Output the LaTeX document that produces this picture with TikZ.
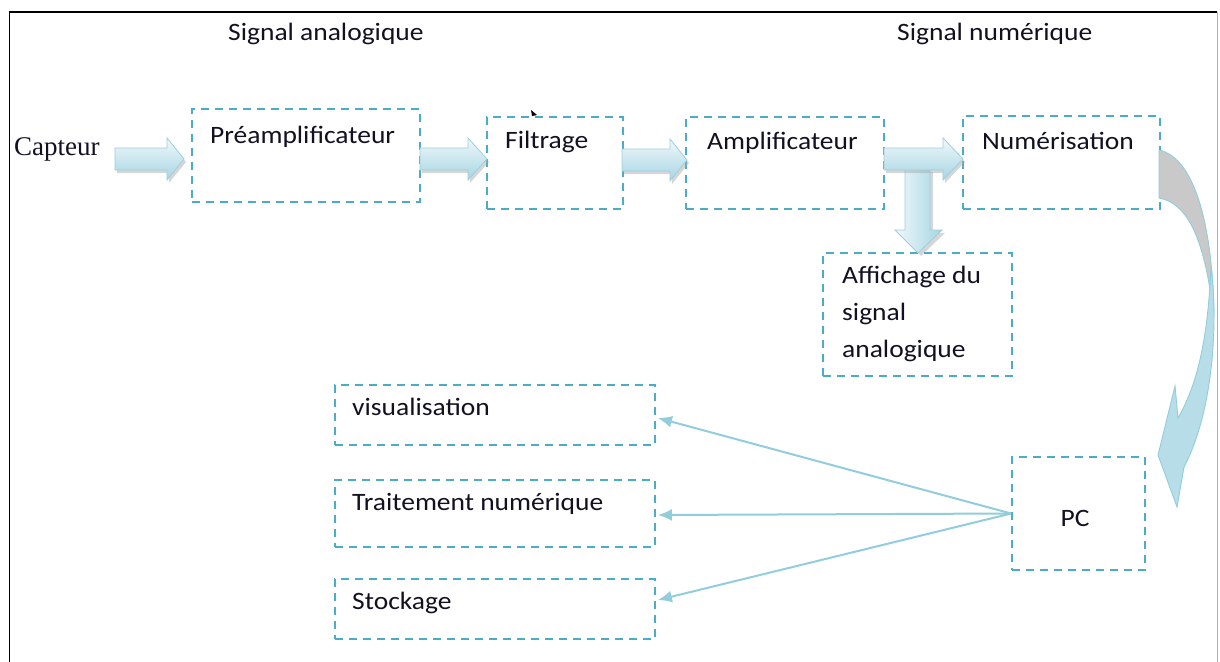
\documentclass[tikz,border=0pt]{standalone}
\usepackage{fontspec}
\setmainfont{Carlito}[FakeStretch=1.1]
\newfontfamily\serifcap{Liberation Serif}
\usetikzlibrary{arrows.meta,calc}
\definecolor{dashc}{HTML}{4BACC6}
\definecolor{linec}{HTML}{92CDDC}
\definecolor{arrtop}{HTML}{F0F8FB}
\definecolor{arrbot}{HTML}{A6D5E2}
\definecolor{arredge}{HTML}{9DCFDF}
\definecolor{curvblue}{HTML}{B7DEE8}
\definecolor{curvgray}{HTML}{C9C9C9}
\definecolor{txtc}{HTML}{111122}
\newcommand\blockarrowR[4]{%
  \fill[gray!70,opacity=0.45] (#1+2,#4-8) -- (#2+2,#4-8) -- (#2+2,#4-18) -- (#3+2,#4+3) -- (#2+2,#4+24) -- (#2+2,#4+14) -- (#1+2,#4+14) -- cycle;
  \draw[arredge, line width=0.8pt, top color=arrtop, bottom color=arrbot] (#1,#4-11) -- (#2,#4-11) -- (#2,#4-21) -- (#3,#4) -- (#2,#4+21) -- (#2,#4+11) -- (#1,#4+11) -- cycle;}
\begin{document}
\begin{tikzpicture}[x=1pt,y=-1pt,
  box/.style={draw=dashc, line width=1.8pt, dash pattern=on 8pt off 6pt, inner sep=0pt},
  txt/.style={inner sep=0pt, anchor=base west, text=txtc, font=\fontsize{25}{30}\selectfont},
  thinarrow/.style={draw=linec, line width=2pt, -{Latex[length=14pt,width=12pt]}}]
\useasboundingbox (0,0) rectangle (1220,661);
\fill[white] (0,0) rectangle (1220,661);
% frame
\draw[line width=1.5pt] (9.5,665) -- (9.5,12) -- (1217,12);
\draw[gray!60, line width=1pt] (1217,12) -- (1217,665);

% boxes
\node[box, minimum width=228pt, minimum height=93pt] (pre) at (306,155.5) {};
\node[box, minimum width=136pt, minimum height=92pt] (fil) at (555,163) {};
\node[box, minimum width=198pt, minimum height=92pt] (amp) at (785,163) {};
\node[box, minimum width=197pt, minimum height=93pt] (num) at (1061.5,162.5) {};
\node[box, minimum width=189pt, minimum height=123pt] (aff) at (917.5,314.5) {};
\node[box, minimum width=320pt, minimum height=60pt] (vis) at (495,415) {};
\node[box, minimum width=320pt, minimum height=67pt] (tra) at (495,513.5) {};
\node[box, minimum width=320pt, minimum height=60pt] (sto) at (495,609) {};
\node[box, minimum width=133pt, minimum height=113pt] (pc) at (1078.5,513.5) {};

% texts
\node[txt] (lsa) at (228,41) {Signal analogique};
\node[txt] (lsn) at (897,41) {Signal numérique};
\node[inner sep=0pt, anchor=base west, text=txtc, font=\serifcap\fontsize{27}{30}\selectfont] (capteur) at (14,155) {Capteur};
\node[txt] (tpre) at (210,143) {Préamplificateur};
\node[txt] (tfil) at (505,148) {Filtrage};
\node[txt] (tamp) at (707,149) {Amplificateur};
\node[txt] (tnum) at (982,149) {Numérisation};
\node[txt] (taff1) at (842,283) {Affichage du};
\node[txt] (taff2) at (842,320) {signal};
\node[txt] (taff3) at (842,357) {analogique};
\node[txt] (tvis) at (352,415) {visualisation};
\node[txt] (ttra) at (352,510) {Traitement numérique};
\node[txt] (tsto) at (352,609) {Stockage};
\node[inner sep=0pt, anchor=base, text=txtc, font=\fontsize{25}{30}\selectfont] (tpc) at (1075,526) {PC};

% small mark
\fill (531,110) -- (537,115) -- (532,116) -- cycle;

% down arrow (under the horizontal one)
\fill[gray!70,opacity=0.45] (908,172) -- (933,172) -- (933,233) -- (945,233) -- (921,256) -- (898,233) -- (908,233) -- cycle;
\draw[arredge, line width=0.8pt, left color=arrtop, right color=arrbot] (905,166) -- (930,166) -- (930,230) -- (942,230) -- (918,253) -- (895,230) -- (905,230) -- cycle;

% block arrows
\blockarrowR{115}{167}{184}{159}
\blockarrowR{420}{468}{487}{159}
\blockarrowR{622}{670}{687}{160}
\blockarrowR{884}{943}{963}{159}

% curved arrow
\draw[linec, line width=0.9pt, fill=curvgray] (1159,150) .. controls (1196,158) and (1213,230) .. (1214,318)
   .. controls (1206,250) and (1192,204) .. (1159,198) -- cycle;
\draw[linec, line width=0.9pt, fill=curvblue] (1211,268) .. controls (1218,320) and (1214,410) .. (1184,467)
   -- (1177,507) -- (1158,455) -- (1175,386) -- (1178,418)
   .. controls (1200,380) and (1208,330) .. (1211,268) -- cycle;

% connectors from PC
\draw[thinarrow] (pc.west) -- ($(vis.east)+(2,3)$);
\draw[thinarrow] (pc.west) -- ($(tra.east)+(2,1.5)$);
\draw[thinarrow] (pc.west) -- ($(sto.east)+(2,-9)$);
\end{tikzpicture}
\end{document}
